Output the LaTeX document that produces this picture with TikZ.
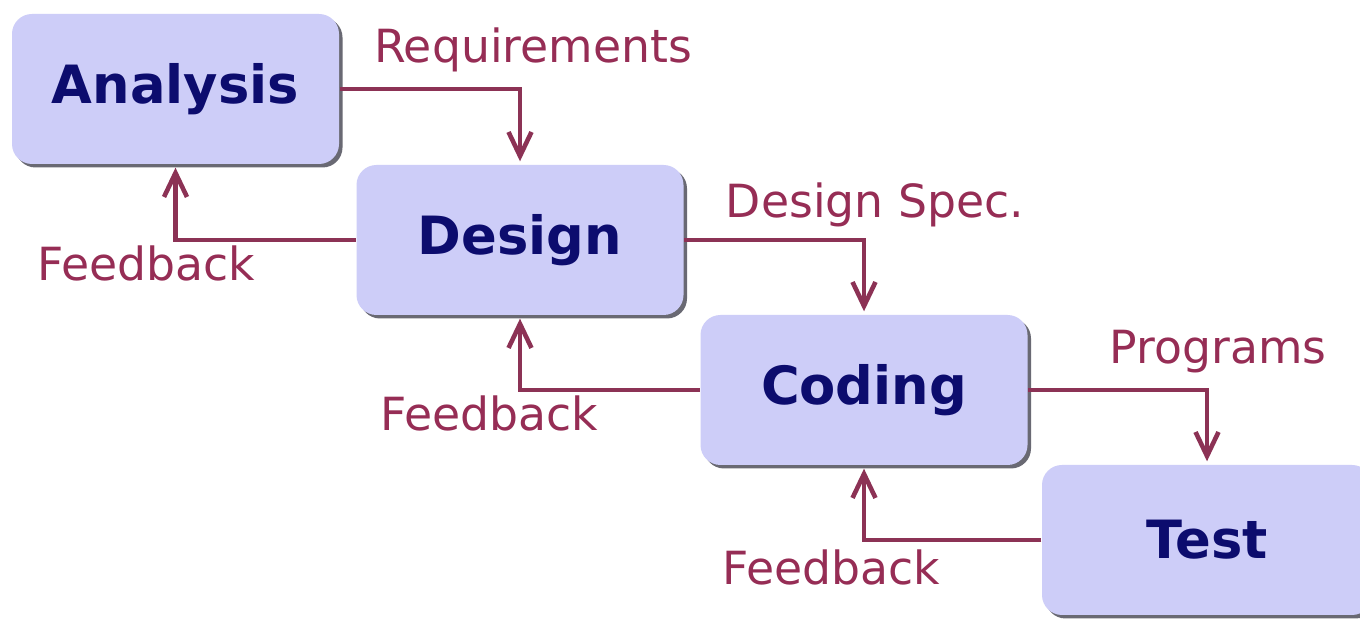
\documentclass[tikz,border=0pt]{standalone}
\usepackage{fontspec}
\setmainfont{DejaVu Sans}
\usetikzlibrary{arrows.meta,shadows}
\definecolor{boxfill}{RGB}{205,205,248}
\definecolor{boxtext}{RGB}{12,12,110}
\definecolor{flowline}{RGB}{140,50,85}
\definecolor{flowtext}{RGB}{150,45,85}
\definecolor{shadowgray}{RGB}{105,105,115}
\tikzset{
  phase/.style={draw=none,fill=boxfill,rounded corners=0.2cm,minimum width=3.27cm,
    minimum height=1.5cm,text=boxtext,font=\fontsize{15}{18}\selectfont\bfseries,
    drop shadow={shadow xshift=0.035cm,shadow yshift=-0.035cm,opacity=1,fill=shadowgray}},
  flow/.style={draw=flowline,line width=1.3pt,
    -{Straight Barb[length=0.24cm,width=0.23cm,line width=1.3pt]}},
  lbl/.style={text=flowtext,font=\fontsize{13}{16}\selectfont,inner sep=0pt}
}
\begin{document}
\begin{tikzpicture}
    \clip (0,0) rectangle (13.6,6.19);
    \fill[white] (0,0) rectangle (13.6,6.19);
    % phases
    \node[phase] (analysis) at (1.755,5.30) {Analysis};
    \node[phase] (design) at (5.20,3.79) {Design};
    \node[phase] (coding) at (8.64,2.29) {Coding};
    \node[phase,minimum width=3.3cm] (test) at (12.07,0.79) {Test};
    % forward flow
    \draw[flow] (analysis.east) -| ([yshift=0.03cm]design.north);
    \draw[flow] (design.east) -| ([yshift=0.03cm]coding.north);
    \draw[flow] (coding.east) -| ([yshift=0.03cm]test.north);
    % feedback
    \draw[flow] (design.west) -| ([yshift=-0.03cm]analysis.south);
    \draw[flow] (coding.west) -| ([yshift=-0.03cm]design.south);
    \draw[flow] (test.west) -| ([yshift=-0.03cm]coding.south);
    % labels
    \node[lbl] (req) at (5.33,5.69) {Requirements};
    \node[lbl] (spec) at (8.75,4.14) {Design Spec.};
    \node[lbl] (prog) at (12.18,2.67) {Programs};
    \node[lbl] (fb1) at (1.46,3.56) {Feedback};
    \node[lbl] (fb2) at (4.89,2.06) {Feedback};
    \node[lbl] (fb3) at (8.31,0.52) {Feedback};
\end{tikzpicture}
\end{document}
